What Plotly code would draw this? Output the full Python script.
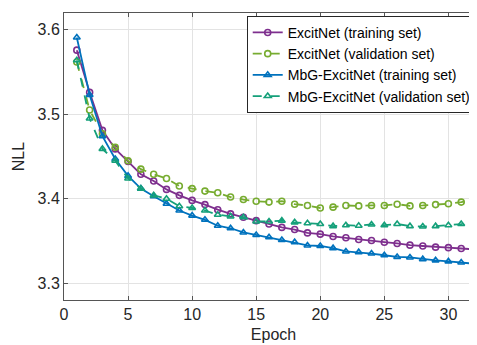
import plotly.graph_objects as go

epochs = list(range(1, 33))

excit_train = [3.576, 3.526, 3.481, 3.459, 3.444, 3.429, 3.421, 3.411, 3.404, 3.398,
               3.393, 3.387, 3.382, 3.378, 3.374, 3.370, 3.366, 3.3635, 3.3595, 3.358,
               3.3553, 3.3537, 3.3517, 3.3505, 3.3485, 3.347, 3.345, 3.344, 3.3426, 3.342,
               3.341, 3.340]
excit_val = [3.562, 3.505, 3.477, 3.461, 3.445, 3.435, 3.429, 3.424, 3.415, 3.412,
             3.409, 3.407, 3.402, 3.399, 3.397, 3.396, 3.397, 3.3935, 3.392, 3.389,
             3.390, 3.392, 3.3915, 3.392, 3.392, 3.3935, 3.3915, 3.392, 3.393, 3.394,
             3.396, 3.399]
mbg_train = [3.591, 3.523, 3.474, 3.447, 3.427, 3.412, 3.403, 3.394, 3.386, 3.380,
             3.375, 3.368, 3.365, 3.360, 3.357, 3.3544, 3.351, 3.3485, 3.3446, 3.344,
             3.3414, 3.3375, 3.3367, 3.335, 3.333, 3.331, 3.3304, 3.3284, 3.327, 3.3257,
             3.3245, 3.323]
mbg_val = [3.564, 3.495, 3.459, 3.445, 3.424, 3.412, 3.404, 3.400, 3.391, 3.389,
           3.386, 3.381, 3.379, 3.378, 3.373, 3.373, 3.374, 3.372, 3.371, 3.370,
           3.3675, 3.3686, 3.368, 3.3695, 3.3686, 3.370, 3.3675, 3.367, 3.3675, 3.3686,
           3.370, 3.372]

names = ["ExcitNet (training set)", "ExcitNet (validation set)",
         "MbG-ExcitNet (training set)", "MbG-ExcitNet (validation set)"]

series = [
    (excit_train, names[0], "#7E2F8E", "solid", "circle-open"),
    (excit_val, names[1], "#77AC30", "dash", "circle-open"),
    (mbg_train, names[2], "#0072BD", "solid", "triangle-up-open"),
    (mbg_val, names[3], "#15A07A", "dash", "triangle-up-open"),
]

fig = go.Figure()
for vals, name, color, dash, sym in series:
    fig.add_trace(go.Scatter(
        x=epochs, y=vals, name=name, mode="lines+markers",
        line=dict(color=color, width=1.8, dash=dash),
        marker=dict(symbol=sym, size=6, color=color, line=dict(width=1.6, color=color)),
    ))

axis_common = dict(
    showline=True, linecolor="#555555", linewidth=1, mirror="ticks",
    ticks="inside", ticklen=4, tickcolor="#555555",
    showgrid=True, gridcolor="#E3E3E3", gridwidth=1, zeroline=False,
    tickfont=dict(family="Liberation Sans, Arial", size=16, color="#262626"),
)

fig.update_layout(
    width=477, height=345,
    margin=dict(l=56, r=2, t=5, b=53),
    paper_bgcolor="white", plot_bgcolor="white",
    font=dict(family="Liberation Sans, Arial", size=15, color="#262626"),
    showlegend=True,
    legend=dict(
        x=0.985, y=0.99, xanchor="right", yanchor="top",
        bgcolor="white", bordercolor="#262626", borderwidth=1,
        font=dict(family="Liberation Sans, Arial", size=14, color="#000000"),
        tracegroupgap=0, itemwidth=30,
    ),
    xaxis=dict(range=[0, 32.7], tickvals=[0, 5, 10, 15, 20, 25, 30],
               title=dict(text="Epoch", standoff=6, font=dict(size=16)), **axis_common),
    yaxis=dict(range=[3.28, 3.62], tickvals=[3.3, 3.4, 3.5, 3.6],
               ticktext=["3.3", "3.4", "3.5", "3.6"],
               title=dict(text="NLL", standoff=8, font=dict(size=16)), **axis_common),
)

fig.write_html("out.html")
